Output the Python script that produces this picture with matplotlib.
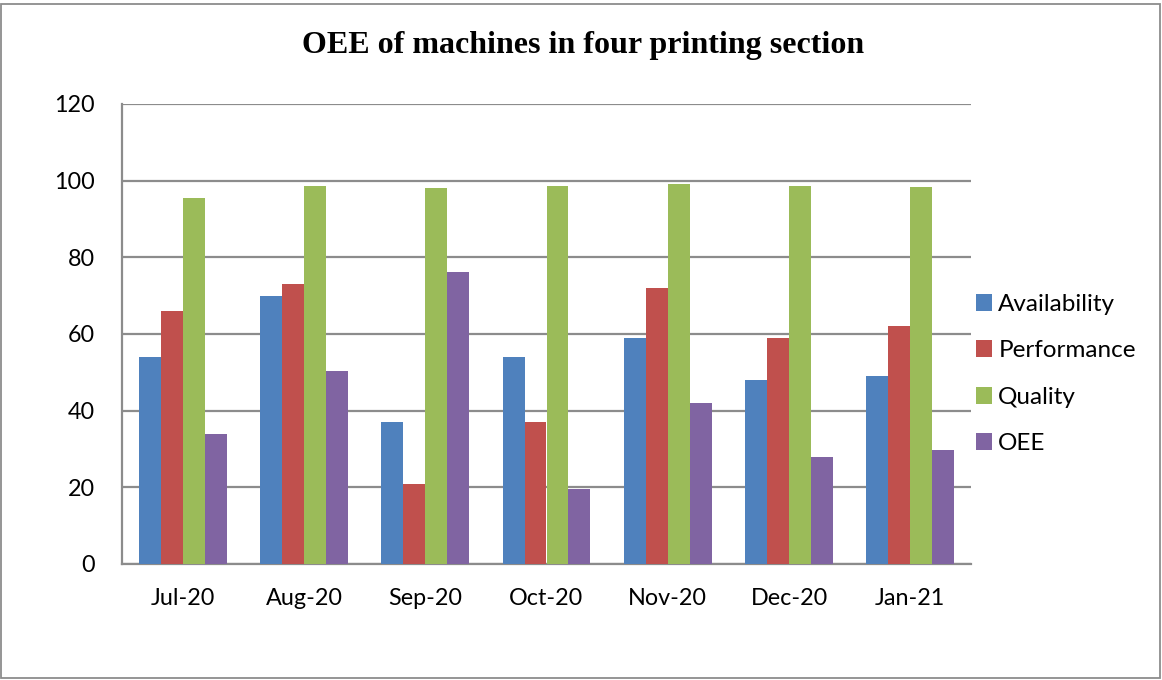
import matplotlib
matplotlib.use("Agg")
import matplotlib.pyplot as plt
from matplotlib.patches import Rectangle
import numpy as np

months = ["Jul-20", "Aug-20", "Sep-20", "Oct-20", "Nov-20", "Dec-20", "Jan-21"]
availability = [54, 70, 37, 54, 59, 48, 49]
performance = [66, 73, 21, 37, 72, 59, 62]
quality = [95.4, 98.7, 98.0, 98.5, 99.0, 98.6, 98.4]
oee = [34.0, 50.4, 76.1, 19.6, 42.0, 27.9, 29.8]

series_names = ["Availability", "Performance", "Quality", "OEE"]
series_values = [availability, performance, quality, oee]
colors = ["#4F81BD", "#C0504D", "#9BBB59", "#8064A2"]
yticks = [0, 20, 40, 60, 80, 100, 120]

label_font = "Lato"

fig = plt.figure(figsize=(11.62, 6.80), dpi=100)
ax = fig.add_axes([122 / 1162, 116 / 680, 849 / 1162, 460 / 680])

x = np.arange(len(months))
bar_w = 0.181
offsets = (np.arange(4) - 1.5) * bar_w
for vals, off, col, name in zip(series_values, offsets, colors, series_names):
    ax.bar(x + off, vals, width=bar_w, color=col, label=name,
           edgecolor="none", zorder=3)

ax.set_xlim(-0.5, len(months) - 0.5)
ax.set_ylim(0, 120)
ax.set_yticks(yticks)
ax.set_xticks(x)
ax.set_xticklabels(months)
ax.yaxis.grid(True, color="#8C8C8C", linewidth=1.6, zorder=0)
ax.set_axisbelow(True)

for side in ["top", "right"]:
    ax.spines[side].set_visible(False)
for side in ["left", "bottom"]:
    ax.spines[side].set_color("#8C8C8C")
    ax.spines[side].set_linewidth(1.6)

ax.tick_params(axis="both", length=0, labelsize=16.8)
ax.tick_params(axis="y", pad=19.5)
ax.tick_params(axis="x", pad=17.5)
for lbl in ax.get_xticklabels() + ax.get_yticklabels():
    lbl.set_fontfamily(label_font)

leg = ax.legend(loc="upper left", bbox_to_anchor=(966 / 1162, 1 - 284 / 680),
                bbox_transform=fig.transFigure, frameon=False,
                prop={"family": label_font, "size": 17.5},
                handlelength=0.68, handleheight=0.68, handletextpad=0.25,
                labelspacing=1.05, borderaxespad=0)

fig.text(583 / 1162, 1 - 46 / 680, "OEE of machines in four printing section",
         ha="center", va="center", fontfamily="Liberation Serif",
         fontweight="bold", fontsize=23)

fig.patches.append(Rectangle((1 / 1162, 2 / 680), 1159 / 1162, 674 / 680,
                             transform=fig.transFigure, fill=False,
                             edgecolor="#8C8C8C", linewidth=1.3))

fig.savefig("out.png", dpi=100, facecolor="white")
